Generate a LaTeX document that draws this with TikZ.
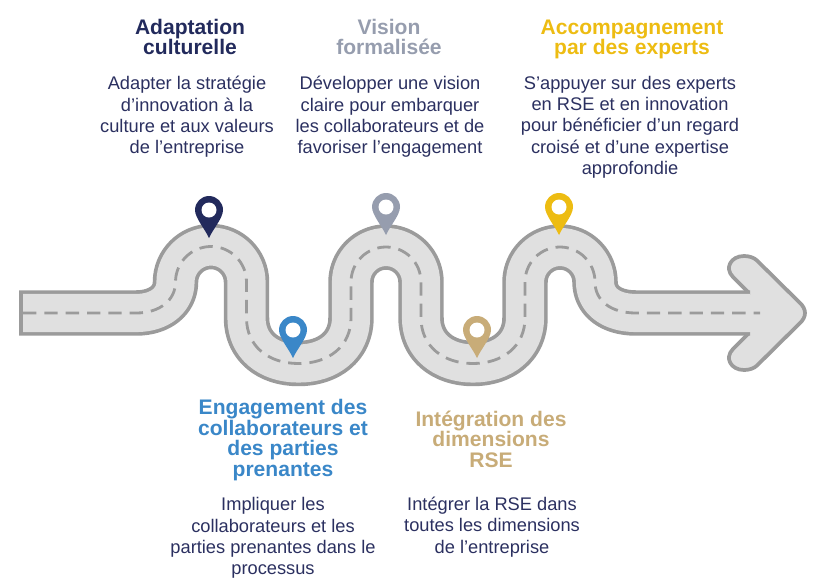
\documentclass[tikz,border=0pt]{standalone}
\usepackage{fontspec}
\setmainfont{Liberation Sans}
\definecolor{navy}{HTML}{222A5C}
\definecolor{txt}{HTML}{2B3060}
\definecolor{pinblue}{HTML}{3A87C8}
\definecolor{pingray}{HTML}{969DAE}
\definecolor{pintan}{HTML}{C8AC78}
\definecolor{pinyellow}{HTML}{EDBC12}
\definecolor{roadline}{HTML}{9B9B9B}
\definecolor{roadfill}{HTML}{E0E0E0}
\def\roadcourse{(19,313) -- (136,313)
 .. controls (160,313) and (175.5,300) .. (175.5,282)
 arc[start angle=180,end angle=360,radius=35.5]
 -- (246.5,318)
 .. controls (246.5,346) and (268,363.5) .. (298.5,363.5)
 .. controls (329,363.5) and (351,346) .. (351,318)
 -- (351,282)
 arc[start angle=180,end angle=360,radius=35]
 -- (421,318)
 .. controls (421,346) and (443,363.5) .. (473,363.5)
 .. controls (503,363.5) and (525,346) .. (525,318)
 -- (525,282)
 arc[start angle=180,end angle=360,radius=35]
 .. controls (595,300) and (610,313) .. (636,313)
 -- (750,313)}
\tikzset{
  x=0.75pt,y=-0.75pt,
  title/.style={font=\fontsize{15.8pt}{15.4pt}\selectfont\bfseries,align=center,inner sep=0pt,anchor=center},
  body/.style={font=\fontsize{13.7pt}{16pt}\selectfont,align=center,inner sep=0pt,text=txt,anchor=center},
  pin/.pic={
    \fill[pic actions] (0,28) .. controls (-4,19) and (-14,8) .. (-14,0)
      arc[start angle=180,end angle=360,radius=14]
      .. controls (14,8) and (4,19) .. (0,28) -- cycle;
    \fill[white] (0,0) circle[radius=7.5];
  }
}
\begin{document}
\begin{tikzpicture}
\useasboundingbox (0,0) rectangle (830,586);
% arrow head
\path[fill=roadfill,draw=roadline,line width=2.8pt,line join=round]
  (748,292) -- (733,277) .. controls (724,268) and (731,256) .. (744,256)
  .. controls (749,256) and (754,257.5) .. (757,260.5)
  -- (799,302) .. controls (807,309) and (807,317) .. (799,324)
  -- (757,365.5) .. controls (754,368.5) and (749,370) .. (744,370)
  .. controls (731,370) and (724,358) .. (733,349) -- (748,334);
% road
\draw[roadline,line width=34.1pt,line join=round] \roadcourse;
\draw[roadfill,line width=28.6pt,shorten <=3pt,line join=round] \roadcourse;
\fill[roadfill] (745,294.5) rectangle (756,331.5);
% centre line
\draw[roadline,line width=2.1pt,dash pattern=on 10pt off 6pt,dash phase=-1pt,shorten <=2pt,shorten >=-7.5pt] \roadcourse;
% pins
\pic[navy] at (209,210) {pin};
\pic[pinblue] at (293,330) {pin};
\pic[pingray] at (386,207) {pin};
\pic[pintan] at (477,330) {pin};
\pic[pinyellow] at (559,207) {pin};
% titles
\node[title,text=navy] (t1) at (190,37) {Adaptation\\culturelle};
\node[title,text=pingray] (t2) at (389,37) {Vision\\formalisée};
\node[title,text=pinyellow] (t3) at (632,39.5) {Accompagnement\\par des experts};
\node[title,text=pinblue] (t4) at (283,440) {Engagement des\\collaborateurs et\\des parties\\prenantes};
\node[title,text=pintan] (t5) at (491,439) {Intégration des\\dimensions\\RSE};
% bodies
\node[body] (b1) at (187,117) {Adapter la stratégie\\d’innovation à la\\culture et aux valeurs\\de l’entreprise};
\node[body] (b2) at (390,117) {Développer une vision\\claire pour embarquer\\les collaborateurs et de\\favoriser l’engagement};
\node[body] (b3) at (630,127) {S’appuyer sur des experts\\en RSE et en innovation\\pour bénéficier d’un regard\\croisé et d’une expertise\\approfondie};
\node[body] (b4) at (273,538) {Impliquer les\\collaborateurs et les\\parties prenantes dans le\\processus};
\node[body] (b5) at (492,527) {Intégrer la RSE dans\\toutes les dimensions\\de l’entreprise};
\end{tikzpicture}
\end{document}
